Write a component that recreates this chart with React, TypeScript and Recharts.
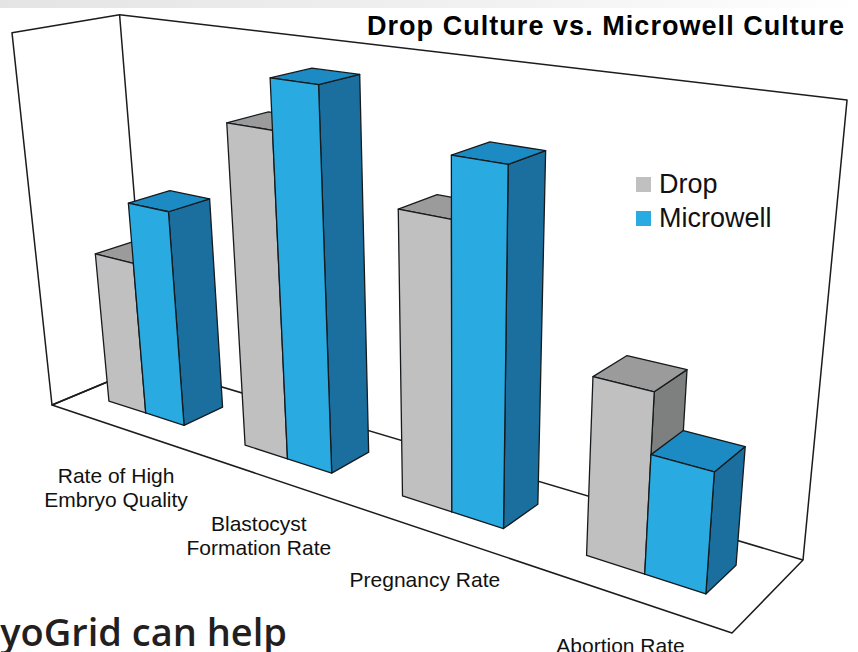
import React from 'react';
import { BarChart, Bar, XAxis, YAxis, Legend, Customized } from 'recharts';

const categories = [
  'Rate of High\nEmbryo Quality',
  'Blastocyst\nFormation Rate',
  'Pregnancy Rate',
  'Abortion Rate',
];
const dropValues = [42, 83, 70, 42];
const microwellValues = [58, 95, 84, 28];
const seriesNames = ['Drop', 'Microwell'];

const W = 858;
const H = 652;
const AXIS_H = 1;
const PLOT_H = H - AXIS_H;
const FONT = '"Liberation Sans", Arial, Helvetica, sans-serif';

// depth slot of the bars inside the box (0 = front, 1 = back)
const Z_FRONT = 0.3;
const Z_BACK = 0.71;

const DROP_COLORS = { front: '#c1c0c1', top: '#9b9b9b', side: '#7e8080' };
const MICRO_COLORS = { front: '#29abe2', top: '#1d8bc3', side: '#1a6f9e' };

type Pt = [number, number];

// homography coefficients from the unit square onto the floor quad (p00, p10, p11, p01)
function squareToQuad(q: Pt[]) {
  const [[x0, y0], [x1, y1], [x2, y2], [x3, y3]] = q;
  const dx1 = x1 - x2, dx2 = x3 - x2, dx3 = x0 - x1 + x2 - x3;
  const dy1 = y1 - y2, dy2 = y3 - y2, dy3 = y0 - y1 + y2 - y3;
  const den = dx1 * dy2 - dx2 * dy1;
  const g = (dx3 * dy2 - dx2 * dy3) / den;
  const h = (dx1 * dy3 - dx3 * dy1) / den;
  return {
    a: x1 - x0 + g * x1, b: x3 - x0 + h * x3, c: x0,
    d: y1 - y0 + g * y1, e: y3 - y0 + h * y3, f: y0,
    g, h,
  };
}

const F = squareToQuad([[52, 405], [732, 633], [803, 560], [148, 365]]);
const VERT_VP: Pt = [457, 4174]; // vanishing point of the vertical edges
const VERT_K = -0.0899; // box height in homogeneous units

function proj(X: number, Y: number, Z: number): Pt {
  const k = VERT_K * Y;
  const w = F.g * X + F.h * Z + 1 + k;
  return [
    (F.a * X + F.b * Z + F.c + k * VERT_VP[0]) / w,
    (F.d * X + F.e * Z + F.f + k * VERT_VP[1]) / w,
  ];
}

const toPts = (pts: Pt[]) => pts.map((p) => `${p[0].toFixed(2)},${p[1].toFixed(2)}`).join(' ');

const data = categories.map((name, i) => ({
  name,
  Drop: dropValues[i],
  Microwell: microwellValues[i],
}));

function Bar3D(props: any) {
  const { x, width, height, colors } = props;
  if (!height || height <= 0) return null;
  const X0 = x / W;
  const X1 = (x + width) / W;
  const Yv = height / PLOT_H;
  const front = [proj(X0, 0, Z_FRONT), proj(X1, 0, Z_FRONT), proj(X1, Yv, Z_FRONT), proj(X0, Yv, Z_FRONT)];
  const side = [proj(X1, 0, Z_FRONT), proj(X1, 0, Z_BACK), proj(X1, Yv, Z_BACK), proj(X1, Yv, Z_FRONT)];
  const top = [proj(X0, Yv, Z_FRONT), proj(X1, Yv, Z_FRONT), proj(X1, Yv, Z_BACK), proj(X0, Yv, Z_BACK)];
  const line = { stroke: '#161a1d', strokeWidth: 1.3, strokeLinejoin: 'round' as const };
  return (
    <g>
      <polygon points={toPts(side)} fill={colors.side} {...line} />
      <polygon points={toPts(top)} fill={colors.top} {...line} />
      <polygon points={toPts(front)} fill={colors.front} {...line} />
    </g>
  );
}

function Frame() {
  const FL = proj(0, 0, 0), FR = proj(1, 0, 0), BR = proj(1, 0, 1), BL = proj(0, 0, 1);
  const TFL = proj(0, 1, 0), TBL = proj(0, 1, 1), TBR = proj(1, 1, 1);
  const st = { fill: 'none', stroke: '#1c1c1c', strokeWidth: 1.5, strokeLinejoin: 'round' as const };
  return (
    <g>
      <defs>
        <linearGradient id="topShade" x1="0" y1="0" x2="1" y2="0">
          <stop offset="0" stopColor="#e4e4e4" />
          <stop offset="0.6" stopColor="#f2f2f2" />
          <stop offset="1" stopColor="#ffffff" />
        </linearGradient>
      </defs>
      <rect x={0} y={0} width={W} height={8} fill="url(#topShade)" />
      <polygon points={toPts([FL, FR, BR, BL])} {...st} />
      <polygon points={toPts([FL, TFL, TBL, BL])} {...st} />
      <polyline points={toPts([TBL, TBR, BR])} {...st} />
      <text x={367} y={35} fontFamily={FONT} fontWeight="bold" fontSize={27} textLength={477} lengthAdjust="spacing" fill="#000">
        Drop Culture vs. Microwell Culture
      </text>
      <text x={287} y={646} textAnchor="end" fontFamily='"Open Sans", "DejaVu Sans", sans-serif' fontWeight={600} fontSize={38} fill="#231f20">
        CryoGrid can help
      </text>
    </g>
  );
}

function CategoryTick(props: any) {
  const { x, payload } = props;
  const [px, py] = proj(x / W, 0, 0);
  const lines = String(payload.value).split('\n');
  return (
    <text x={px} y={py + 57} textAnchor="middle" fontFamily={FONT} fontSize={21} fill="#111">
      {lines.map((l, i) => (
        <tspan key={i} x={px} dy={i === 0 ? 0 : 24}>
          {l}
        </tspan>
      ))}
    </text>
  );
}

function LegendContent(props: any) {
  const { payload } = props;
  return (
    <div style={{ fontFamily: FONT, fontSize: 27, color: '#111' }}>
      {(payload || []).map((p: any) => (
        <div key={p.value} style={{ display: 'flex', alignItems: 'center', height: 34, lineHeight: '34px' }}>
          <span style={{ width: 15, height: 15, background: p.color, display: 'inline-block', marginRight: 8 }} />
          <span>{p.value}</span>
        </div>
      ))}
    </div>
  );
}

export default function App() {
  return (
    <div style={{ position: 'absolute', left: 0, top: 0, width: W, height: H, background: '#fff' }}>
      <BarChart
        width={W}
        height={H}
        data={data}
        margin={{ top: 0, right: 0, bottom: 0, left: 0 }}
        barCategoryGap="21.4%"
        barGap={0}
      >
        <Customized component={Frame} />
        <XAxis
          dataKey="name"
          height={AXIS_H}
          axisLine={false}
          tickLine={false}
          interval={0}
          tick={(p: any) => <CategoryTick {...p} />}
        />
        <YAxis hide domain={[0, 100]} />
        <Legend
          layout="horizontal"
          verticalAlign="middle"
          align="center"
          content={(p: any) => <LegendContent {...p} />}
          wrapperStyle={{ left: 636, top: 167, width: 'auto' }}
        />
        <Bar
          dataKey={seriesNames[0]}
          name={seriesNames[0]}
          fill={DROP_COLORS.front}
          isAnimationActive={false}
          shape={(p: any) => <Bar3D {...p} colors={DROP_COLORS} />}
        />
        <Bar
          dataKey={seriesNames[1]}
          name={seriesNames[1]}
          fill={MICRO_COLORS.front}
          isAnimationActive={false}
          shape={(p: any) => <Bar3D {...p} colors={MICRO_COLORS} />}
        />
      </BarChart>
    </div>
  );
}
